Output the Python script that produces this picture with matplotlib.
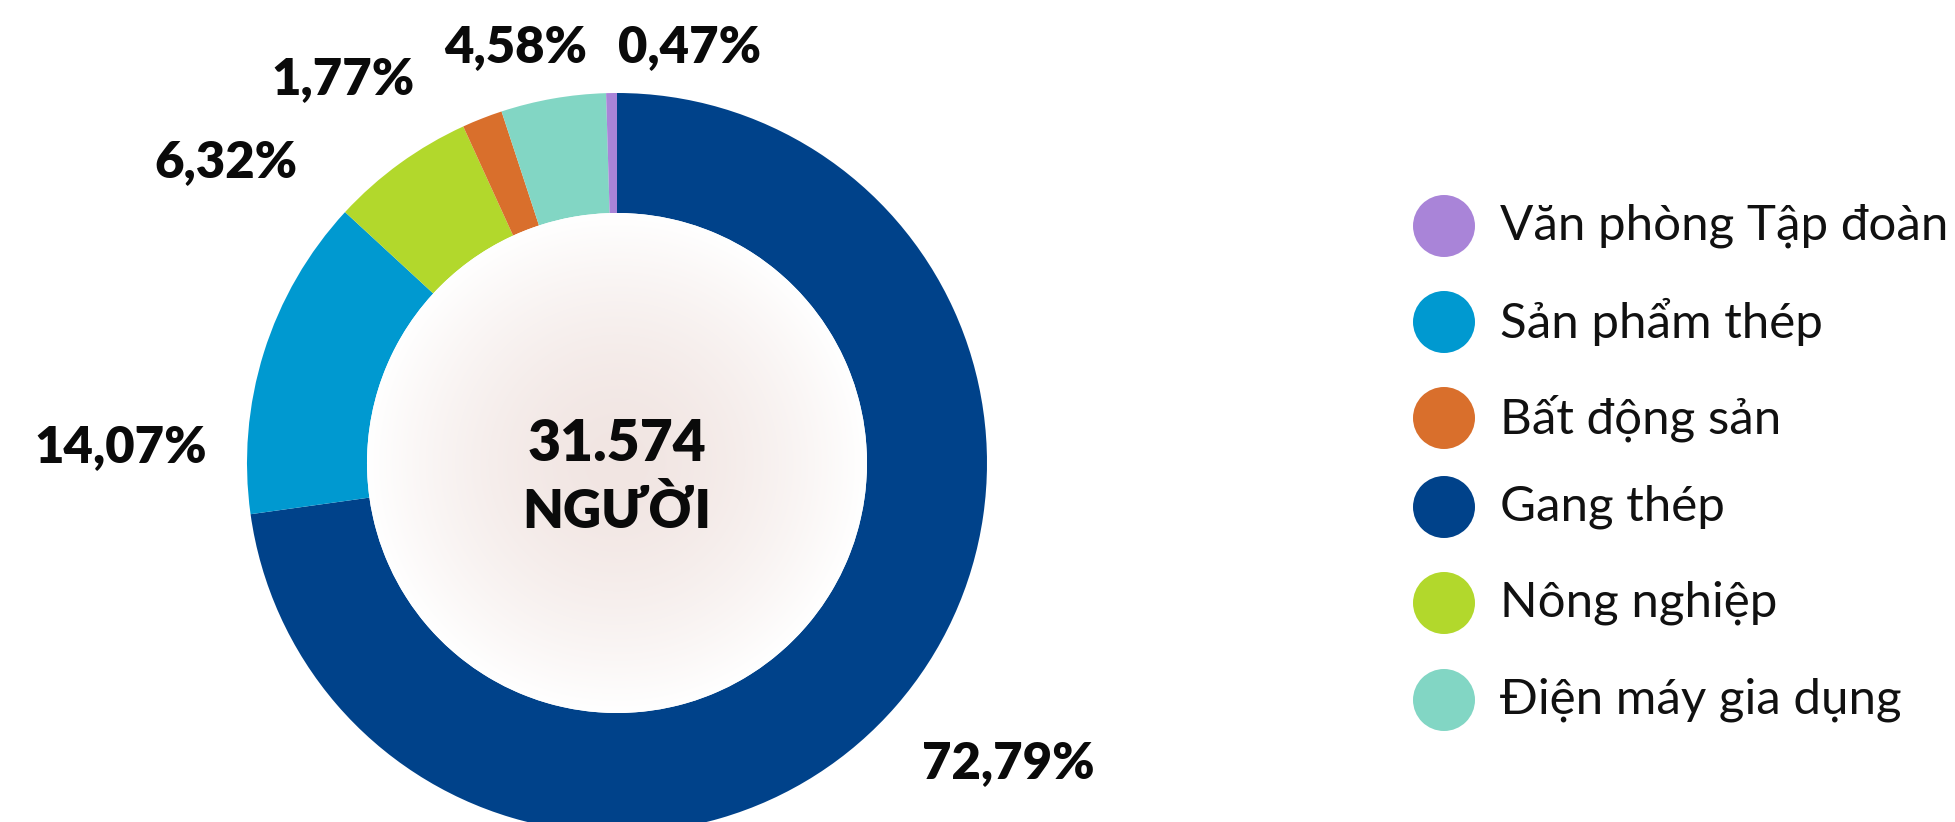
import numpy as np
import matplotlib
matplotlib.use("Agg")
import matplotlib.pyplot as plt
from matplotlib.patches import Circle

# ---- data ----
categories = ["Gang thép", "Sản phẩm thép", "Nông nghiệp", "Bất động sản",
              "Điện máy gia dụng", "Văn phòng Tập đoàn"]
values = [72.79, 14.07, 6.32, 1.77, 4.58, 0.47]
labels = ["72,79%", "14,07%", "6,32%", "1,77%", "4,58%", "0,47%"]
legend_order = ["Văn phòng Tập đoàn", "Sản phẩm thép", "Bất động sản",
                "Gang thép", "Nông nghiệp", "Điện máy gia dụng"]
center_text = "31.574\nNGƯỜI"

# ---- style ----
colors = {
    "Gang thép": "#00428a",
    "Sản phẩm thép": "#0099d0",
    "Nông nghiệp": "#b2d82c",
    "Bất động sản": "#d96f2c",
    "Điện máy gia dụng": "#82d6c4",
    "Văn phòng Tập đoàn": "#a984d8",
}
FONT = ["Lato", "Noto Sans", "DejaVu Sans"]
plt.rcParams["font.family"] = FONT

W, H = 1956, 822
fig = plt.figure(figsize=(W / 100, H / 100), dpi=100)
ax = fig.add_axes([0, 0, 1, 1])

cx, cy = 617, H - 463
R_out, R_in = 370, 250

ax.pie(values, radius=R_out, center=(cx, cy), startangle=90, counterclock=False,
       colors=[colors[c] for c in categories],
       wedgeprops=dict(width=R_out - R_in, linewidth=0), frame=False)

# inner radial gradient (pinkish center, white edge)
n = 400
yy, xx = np.mgrid[-1:1:n * 1j, -1:1:n * 1j]
rr = np.sqrt(xx ** 2 + yy ** 2)
c_center = np.array([0.945, 0.898, 0.886])
c_edge = np.array([1.0, 1.0, 1.0])
t = np.clip(rr, 0, 1) ** 1.6
img = c_center[None, None, :] * (1 - t[..., None]) + c_edge[None, None, :] * t[..., None]
im = ax.imshow(img, extent=(cx - R_in, cx + R_in, cy - R_in, cy + R_in),
               origin="lower", zorder=3, interpolation="bilinear")
clip = Circle((cx, cy), R_in, transform=ax.transData)
im.set_clip_path(clip)

line1, line2 = center_text.split("\n")
ax.text(cx, cy + 19, line1, ha="center", va="center",
        fontsize=41, fontweight="heavy", zorder=5, color="#0a0a0a")
ax.text(cx, cy - 49, line2, ha="center", va="center",
        fontsize=38, fontweight="heavy", zorder=5, color="#0a0a0a")

# percentage label offsets (pixels from donut center, y up)
label_offsets = [(391, -300), (-496, 16), (-391, 301), (-274, 384),
                 (-101, 416), (73, 416)]
for lab, (dx, dy) in zip(labels, label_offsets):
    ax.text(cx + dx, cy + dy, lab, ha="center", va="center", fontsize=36.5,
            fontweight="heavy", color="#0a0a0a", zorder=5)

# legend
leg_x = 1444
leg_ys = [H - 226, H - 322, H - 418, H - 507, H - 603, H - 700]
for name, ly in zip(legend_order, leg_ys):
    ax.add_patch(Circle((leg_x, ly), 31, color=colors[name], lw=0, zorder=4))
    ax.text(1500, ly, name, ha="left", va="center", fontsize=35.5,
            color="#111111", zorder=5)

ax.set_xlim(0, W)
ax.set_ylim(0, H)
ax.set_aspect("equal")
ax.axis("off")
fig.savefig("out.png", dpi=100)
